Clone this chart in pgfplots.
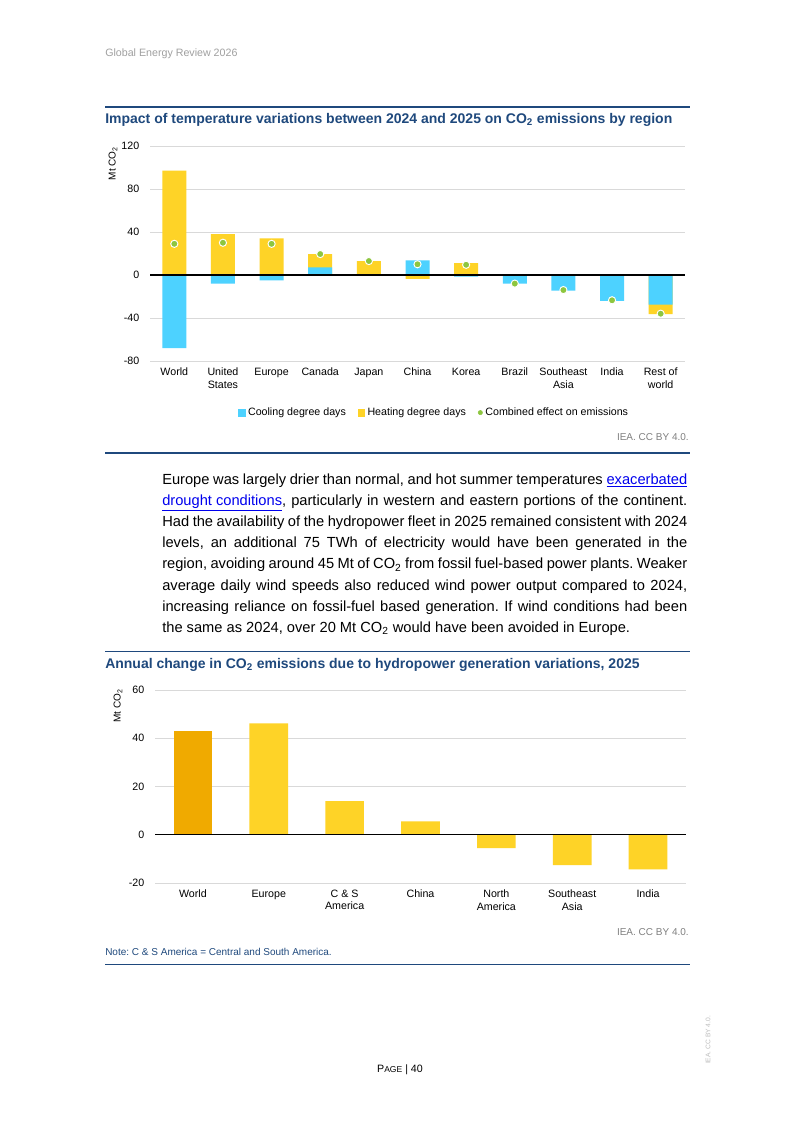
\documentclass[border=0pt]{standalone}
\usepackage{pgfplots}
\pgfplotsset{compat=1.18}
\usepackage{pgfplotstable}
\usepackage{fontspec}
\setmainfont{Liberation Sans}
\frenchspacing

\definecolor{ieablue}{RGB}{31,73,125}
\definecolor{coolc}{RGB}{77,210,255}
\definecolor{heatc}{RGB}{254,211,39}
\definecolor{heatdark}{RGB}{240,170,0}
\definecolor{combc}{RGB}{141,198,63}
\definecolor{gridgrey}{RGB}{217,217,217}
\definecolor{srcgrey}{RGB}{128,128,128}
\definecolor{hdrgrey}{RGB}{160,160,160}
\definecolor{linkblue}{RGB}{0,0,238}

% temperature effect by region, Mt CO2
\pgfplotstableread{
x cool heat comb
0 -68 97 29
1 -8 38 30
2 -5 34 29
3 7 12.5 19.5
4 0 13 13
5 13.5 -3.5 10
6 -1.5 11 9.5
7 -8 0 -8
8 -14.5 0 -14
9 -24 0 -23.5
10 -27.5 -9 -36
}\tempdata

\newcommand{\sz}[1]{\fontsize{#1}{1.2\dimexpr#1pt\relax}\selectfont}
\newcommand{\bodyline}[1]{\hbox to 393.75pt{#1}}
\newcommand{\lnk}[1]{{\color{linkblue}\underline{#1}}}

\begin{document}
\begin{tikzpicture}
\begin{scope}[x=0.75pt,y=-0.75pt]
  \path[fill=white,use as bounding box] (0,0) rectangle (793,1121);
  \coordinate (ax1) at (150,361);
  \coordinate (ax2) at (155,883);

  \node[anchor=base west,inner sep=0,text=hdrgrey,font=\sz{8}] at (105,56.5) {Global Energy Review 2026};

  % chart 1 frame
  \draw[ieablue,line width=0.8pt] (105,107) -- (690,107);
  \node[anchor=base west,inner sep=0,text=ieablue,font=\bfseries\sz{10.5}] at (105,123)
    {Impact of temperature variations between 2024 and 2025 on CO\textsubscript{2} emissions by region};
  \node[rotate=90,inner sep=0,font=\sz{7.5}] at (113,163.5) {Mt CO\textsubscript{2}};
  \node[anchor=base east,inner sep=0,text=srcgrey,font=\sz{7.5}] at (689,440) {IEA. CC BY 4.0.};
  \draw[ieablue,line width=0.8pt] (105,453) -- (690,453);

  % paragraph
  \begin{scope}[every node/.style={anchor=base west,inner sep=0,font=\sz{11}}]
    \node at (162,484.5) {\bodyline{Europe was largely drier than normal, and hot summer temperatures \lnk{exacerbated}}};
    \node at (162,505.6) {\bodyline{\lnk{drought conditions}, particularly in western and eastern portions of the continent.}};
    \node at (162,526.7) {\bodyline{Had the availability of the hydropower fleet in 2025 remained consistent with 2024}};
    \node at (162,547.8) {\bodyline{levels, an additional 75 TWh of electricity would have been generated in the}};
    \node at (162,568.9) {\bodyline{region, avoiding around 45 Mt of CO\textsubscript{2} from fossil fuel-based power plants. Weaker}};
    \node at (162,590.0) {\bodyline{average daily wind speeds also reduced wind power output compared to 2024,}};
    \node at (162,611.1) {\bodyline{increasing reliance on fossil-fuel based generation. If wind conditions had been}};
    \node at (162,632.2) {the same as 2024, over 20 Mt CO\textsubscript{2} would have been avoided in Europe.};
  \end{scope}

  % chart 2 frame
  \draw[ieablue,line width=0.8pt] (105,651.5) -- (690,651.5);
  \node[anchor=base west,inner sep=0,text=ieablue,font=\bfseries\sz{10.5}] at (105,668)
    {Annual change in CO\textsubscript{2} emissions due to hydropower generation variations, 2025};
  \node[rotate=90,inner sep=0,font=\sz{7.5}] at (118,706) {Mt CO\textsubscript{2}};
  \node[anchor=base east,inner sep=0,text=srcgrey,font=\sz{7.5}] at (689,935.5) {IEA. CC BY 4.0.};
  \node[anchor=base west,inner sep=0,text=ieablue,font=\sz{7.5}] at (105,955.5) {Note: C \& S America = Central and South America.};
  \draw[ieablue,line width=0.8pt] (105,964.5) -- (690,964.5);

  % footer
  \node[anchor=base,inner sep=0,font=\sz{8}] at (400,1072.5) {P{\sz{6.4}AGE} | 40};
  \node[rotate=90,inner sep=0,text=hdrgrey!70,font=\sz{5}] at (708,1040) {IEA. CC BY 4.0.};
\end{scope}

\pgfplotsset{
  ieastyle/.style={
    scale only axis,
    anchor=south west,
    axis line style={draw=none},
    major tick length=0pt,
    ymajorgrids,
    grid style={gridgrey,line width=0.6pt},
    /pgf/number format/assume math mode=true,
    ticklabel style={font=\sz{8}},
    yticklabel style={xshift=-4.5pt},
    xticklabel style={align=center,font=\fontsize{8}{9.5}\selectfont,yshift=-1.5pt},
    xtick={0,...,10},
  }
}

\begin{axis}[ieastyle,
  at={(ax1)}, width=401.25pt, height=161.25pt,
  xmin=-0.5, xmax=10.5, ymin=-80, ymax=120,
  ytick={-80,-40,0,40,80,120},
  xticklabels={World,{United\\States},Europe,Canada,Japan,China,Korea,Brazil,{Southeast\\Asia},India,{Rest of\\world}},
  legend style={at={(0.532,-0.24)},anchor=center,draw=none,fill=none,
    font=\sz{8},inner sep=0pt,
    /tikz/every even column/.append style={column sep=7pt}},
  legend columns=-1,
  legend cell align=left,
]
  % heating drawn first; where both effects share a sign it reaches their sum
  \addplot[ybar,bar width=18pt,bar shift=0pt,fill=heatc,draw=none,forget plot]
    table[x=x,y expr={\thisrow{heat}*\thisrow{cool}>0 ? \thisrow{heat}+\thisrow{cool} : \thisrow{heat}}]{\tempdata};
  \addplot[ybar,bar width=18pt,bar shift=0pt,fill=coolc,draw=none,forget plot]
    table[x=x,y=cool]{\tempdata};
  \draw[black,line width=0.8pt] (axis cs:-0.5,0) -- (axis cs:10.5,0);
  \addplot[only marks,mark=*,mark size=2.7pt,mark options={fill=combc,draw=white,line width=0.7pt},forget plot]
    table[x=x,y=comb]{\tempdata};

  \addlegendimage{legend image code/.code={\fill[coolc] (0pt,-2.4pt) rectangle (4.8pt,2.4pt);}}
  \addlegendentry{Cooling degree days}
  \addlegendimage{legend image code/.code={\fill[heatc] (0pt,-2.4pt) rectangle (4.8pt,2.4pt);}}
  \addlegendentry{Heating degree days}
  \addlegendimage{legend image code/.code={\fill[combc] (2pt,0pt) circle (1.6pt);}}
  \addlegendentry{Combined effect on emissions}
\end{axis}

\begin{axis}[ieastyle,
  at={(ax2)}, width=398.25pt, height=144.75pt,
  xmin=-0.5, xmax=6.5, ymin=-20, ymax=60,
  ytick={-20,0,20,40,60},
  xtick={0,...,6},
  xticklabels={World,Europe,{C \& S\\America},China,{North\\America},{Southeast\\Asia},India},
]
  \addplot[ybar,bar width=29pt,bar shift=0pt,fill=heatdark,draw=none]
    coordinates {(0,43)};
  \addplot[ybar,bar width=29pt,bar shift=0pt,fill=heatc,draw=none]
    coordinates {(1,46.2) (2,13.9) (3,5.6) (4,-5.5) (5,-12.6) (6,-14.3)};
  \draw[black,line width=0.8pt] (axis cs:-0.5,0) -- (axis cs:6.5,0);
\end{axis}
\end{tikzpicture}
\end{document}
